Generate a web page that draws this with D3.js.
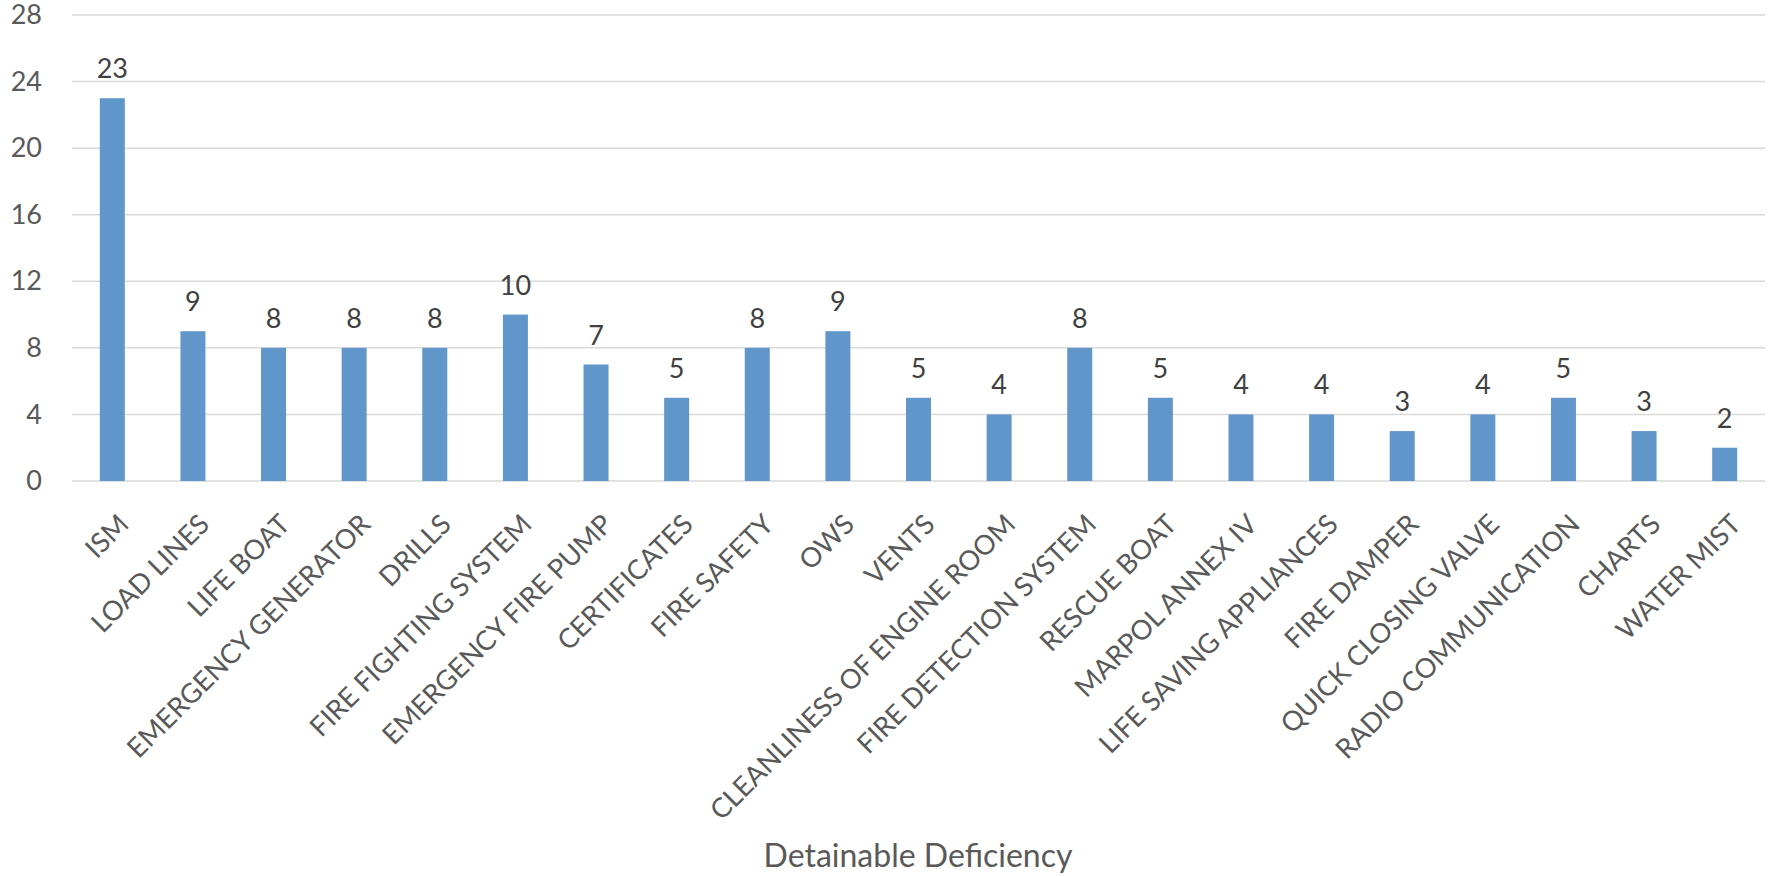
<!DOCTYPE html>
<html>
<head>
<meta charset="utf-8">
<script src="https://cdn.jsdelivr.net/npm/d3@7"></script>
<style>
  html, body { margin: 0; padding: 0; background: #fff; }
  svg { display: block; }
  text { font-family: Lato, "Open Sans", sans-serif; }
</style>
</head>
<body>
<svg id="chart" width="1771" height="876"></svg>
<script>
// Detainable deficiencies by category
const categories = [
  "ISM", "LOAD LINES", "LIFE BOAT", "EMERGENCY GENERATOR", "DRILLS",
  "FIRE FIGHTING SYSTEM", "EMERGENCY FIRE PUMP", "CERTIFICATES", "FIRE SAFETY",
  "OWS", "VENTS", "CLEANLINESS OF ENGINE ROOM", "FIRE DETECTION SYSTEM",
  "RESCUE BOAT", "MARPOL ANNEX IV", "LIFE SAVING APPLIANCES", "FIRE DAMPER",
  "QUICK CLOSING VALVE", "RADIO COMMUNICATION", "CHARTS", "WATER MIST"
];
const counts = [23, 9, 8, 8, 8, 10, 7, 5, 8, 9, 5, 4, 8, 5, 4, 4, 3, 4, 5, 3, 2];
const yTicks = [0, 4, 8, 12, 16, 20, 24, 28];
const axisTitle = "Detainable Deficiency";

const svg = d3.select("#chart");
const plot = { left: 72, right: 1765, top: 15, bottom: 481 };

const x = d3.scaleBand()
  .domain(categories)
  .range([plot.left, plot.right])
  .paddingInner(0.69)
  .paddingOuter(0.345);

const y = d3.scaleLinear()
  .domain([0, 28])
  .range([plot.bottom, plot.top]);

// horizontal gridlines
svg.append("g")
  .selectAll("line")
  .data(yTicks)
  .join("line")
  .attr("x1", plot.left)
  .attr("x2", plot.right)
  .attr("y1", d => y(d))
  .attr("y2", d => y(d))
  .attr("stroke", "#d9d9d9")
  .attr("stroke-width", 1.5);

// y axis labels
const yAxis = d3.axisLeft(y).tickValues(yTicks).tickSize(0).tickPadding(0);
const yg = svg.append("g")
  .attr("transform", `translate(42,0)`)
  .call(yAxis);
yg.select(".domain").remove();
yg.selectAll("text")
  .attr("font-size", 27)
  .attr("fill", "#595959")
  .attr("font-family", "Lato, 'Open Sans', sans-serif");

// bars
svg.append("g")
  .selectAll("rect")
  .data(categories)
  .join("rect")
  .attr("x", d => x(d))
  .attr("width", x.bandwidth())
  .attr("y", (d, i) => y(counts[i]))
  .attr("height", (d, i) => y(0) - y(counts[i]))
  .attr("fill", "#6096c9");

// value labels
svg.append("g")
  .selectAll("text")
  .data(categories)
  .join("text")
  .attr("x", d => x(d) + x.bandwidth() / 2)
  .attr("y", (d, i) => y(counts[i]) - 20)
  .attr("text-anchor", "middle")
  .attr("font-size", 27)
  .attr("fill", "#404040")
  .text((d, i) => counts[i]);

// rotated category labels
svg.append("g")
  .selectAll("text")
  .data(categories)
  .join("text")
  .attr("transform", d => `translate(${x(d) + x.bandwidth() / 2 + 18},${plot.bottom + 45}) rotate(-45)`)
  .attr("text-anchor", "end")
  .attr("font-size", 27.2)
  .attr("fill", "#595959")
  .text(d => d);

// axis title
svg.append("text")
  .attr("x", 918)
  .attr("y", 867)
  .attr("text-anchor", "middle")
  .attr("font-size", 32)
  .attr("fill", "#595959")
  .text(axisTitle);
</script>
</body>
</html>
